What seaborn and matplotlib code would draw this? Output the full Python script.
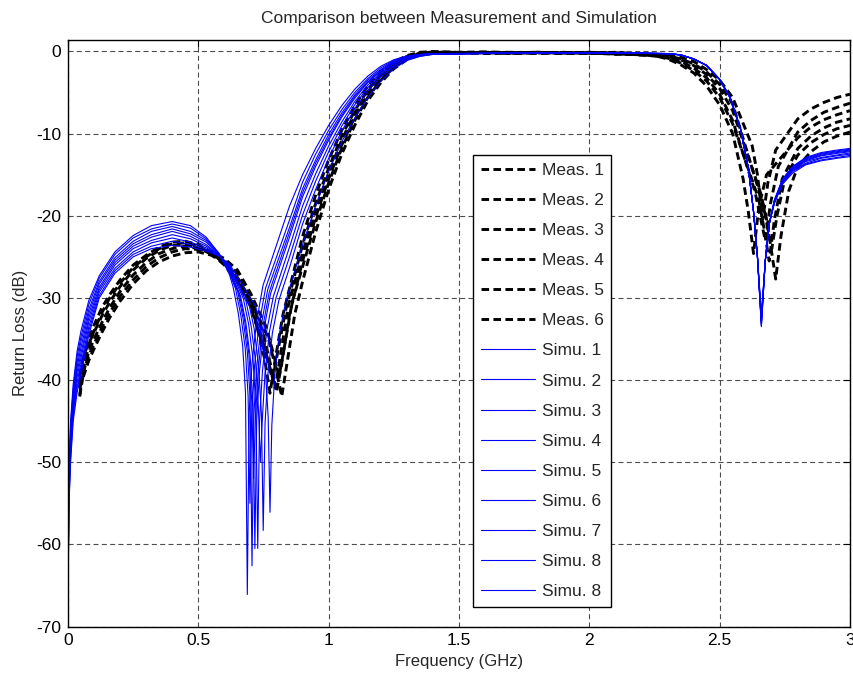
import matplotlib
matplotlib.use("Agg")
import matplotlib.pyplot as plt
import seaborn as sns

sns.set_style("white")
plt.rcParams['font.family'] = ['Liberation Sans', 'DejaVu Sans']
plt.rcParams['axes.unicode_minus'] = False

# ---------------- data ----------------
# Measurement curves: shared frequency grids + per-curve notch grids
meas_f_low = [0.045, 0.06, 0.08, 0.1, 0.13, 0.16, 0.2, 0.25, 0.3, 0.35, 0.4, 0.45, 0.5, 0.55, 0.6, 0.65, 0.7]
meas_f_mid = [0.9, 0.95, 1.0, 1.05, 1.1, 1.15, 1.2, 1.25, 1.3, 1.35, 1.4, 1.5, 1.6, 1.7, 1.8, 1.9, 2.0, 2.1,
              2.2, 2.25, 2.3, 2.35, 2.4, 2.45, 2.5, 2.55]
meas_f_tail = [2.8, 2.85, 2.9, 2.95, 3.0]

meas1_f_n1 = [0.725, 0.755, 0.775, 0.795, 0.825]
meas2_f_n1 = [0.735, 0.765, 0.785, 0.805, 0.835]
meas3_f_n1 = [0.745, 0.775, 0.795, 0.815, 0.845]
meas4_f_n1 = [0.75, 0.78, 0.80, 0.82, 0.85]
meas5_f_n1 = [0.76, 0.79, 0.81, 0.83, 0.86]
meas6_f_n1 = [0.77, 0.80, 0.82, 0.84, 0.87]

meas1_f_n2 = [2.59, 2.61, 2.63, 2.65, 2.68]
meas2_f_n2 = [2.625, 2.645, 2.665, 2.685, 2.715]
meas3_f_n2 = [2.635, 2.655, 2.675, 2.695, 2.725]
meas4_f_n2 = [2.65, 2.67, 2.69, 2.71, 2.74]
meas5_f_n2 = [2.66, 2.68, 2.70, 2.72, 2.75]
meas6_f_n2 = [2.675, 2.695, 2.715, 2.735, 2.765]

meas1_db = [-40.5, -37.5, -35.0, -33.3, -31.2, -29.6, -27.8, -26.0, -24.8, -23.8, -23.2, -23.1, -23.5, -24.5, -25.8, -27.8, -30.5,
            -33.5, -37.5, -41.6, -37.5, -32.0,
            -22.5, -17.5, -13.2, -9.6, -6.6, -4.2, -2.5, -1.3, -0.5, -0.1, 0.0, -0.1, -0.05, -0.15, -0.1, -0.2, -0.1, -0.2,
            -0.35, -0.5, -0.9, -1.6, -2.6, -4.2, -6.5, -10.0,
            -15.5, -19.5, -24.6, -19.0, -15.0,
            -10.5, -9.2, -8.3, -7.7, -7.2]
meas2_db = [-41.8, -38.5, -35.8, -34.0, -31.8, -30.0, -28.2, -26.3, -25.0, -24.0, -23.4, -23.3, -23.7, -24.6, -26.0, -28.0, -31.0,
            -34.5, -37.5, -40.0, -36.5, -31.5,
            -23.5, -18.5, -14.2, -10.3, -7.2, -4.7, -2.8, -1.5, -0.6, -0.2, -0.05, -0.15, -0.1, -0.2, -0.1, -0.15, -0.2, -0.1,
            -0.3, -0.35, -0.4, -0.7, -1.2, -2.2, -3.5, -5.6,
            -11.5, -15.0, -20.5, -16.0, -12.0,
            -8.2, -7.0, -6.2, -5.6, -5.2]
meas3_db = [-39.5, -37.0, -35.5, -34.2, -32.2, -30.5, -28.6, -26.6, -25.2, -24.2, -23.6, -23.5, -23.9, -24.7, -25.6, -27.6, -30.8,
            -35.0, -38.5, -41.0, -37.0, -31.0,
            -24.5, -19.2, -14.8, -10.8, -7.5, -4.9, -3.0, -1.6, -0.7, -0.25, -0.1, -0.2, -0.1, -0.1, -0.25, -0.15, -0.1, -0.25,
            -0.4, -0.5, -0.7, -1.2, -2.0, -3.2, -5.2, -8.4,
            -17.0, -20.0, -23.0, -18.5, -14.0,
            -9.8, -8.4, -7.4, -6.8, -6.3]
meas4_db = [-42.0, -39.0, -36.5, -35.0, -33.0, -31.2, -29.2, -27.2, -25.7, -24.6, -24.0, -23.7, -24.0, -24.6, -25.4, -27.0, -30.0,
            -34.5, -38.5, -41.4, -38.0, -32.0,
            -25.5, -20.2, -15.5, -11.4, -8.0, -5.3, -3.3, -1.8, -0.8, -0.3, -0.1, -0.1, -0.2, -0.15, -0.1, -0.2, -0.25, -0.15,
            -0.45, -0.55, -0.8, -1.4, -2.3, -3.6, -5.6, -8.8,
            -18.0, -21.5, -25.5, -20.5, -15.5,
            -11.8, -10.3, -9.3, -8.6, -8.2]
meas5_db = [-40.8, -38.8, -37.0, -35.6, -33.6, -31.8, -29.8, -27.8, -26.2, -25.1, -24.4, -24.0, -24.1, -24.4, -25.2, -26.6, -29.4,
            -33.5, -37.0, -39.5, -36.0, -30.5,
            -26.2, -20.8, -16.0, -11.8, -8.4, -5.6, -3.5, -1.9, -0.9, -0.35, -0.15, -0.2, -0.15, -0.25, -0.2, -0.1, -0.2, -0.3,
            -0.4, -0.5, -0.6, -1.0, -1.7, -2.8, -4.5, -7.2,
            -17.5, -20.8, -24.0, -20.0, -15.5,
            -12.6, -11.1, -10.1, -9.4, -9.0]
meas6_db = [-41.0, -39.5, -37.6, -36.2, -34.2, -32.4, -30.4, -28.3, -26.7, -25.6, -24.9, -24.5, -24.4, -24.8, -25.8, -27.5, -30.2,
            -35.0, -39.0, -42.0, -38.0, -32.0,
            -28.0, -22.0, -16.8, -12.5, -9.0, -6.0, -3.8, -2.1, -1.0, -0.4, -0.2, -0.15, -0.25, -0.2, -0.15, -0.25, -0.15, -0.35,
            -0.35, -0.4, -0.5, -0.9, -1.5, -2.5, -4.0, -6.4,
            -19.5, -23.5, -27.7, -22.5, -17.0,
            -14.0, -12.2, -11.0, -10.3, -9.8]

# Simulation curves: shared grids + per-curve notch grid
sim_f_low = [0.0, 0.003, 0.01, 0.02, 0.035, 0.05, 0.08, 0.12, 0.18, 0.25, 0.32, 0.40, 0.47, 0.53, 0.58, 0.62]
sim_f_high = [0.85, 0.9, 0.95, 1.0, 1.05, 1.1, 1.15, 1.2, 1.25, 1.3, 1.35, 1.4,
              1.6, 1.8, 2.0, 2.2, 2.3, 2.35, 2.4, 2.45, 2.5, 2.54, 2.58, 2.61, 2.63, 2.645, 2.66, 2.675, 2.69,
              2.71, 2.74, 2.78, 2.83, 2.89, 2.95, 3.0]

sim1_f_n = [0.633, 0.653, 0.670, 0.681, 0.688, 0.695, 0.706, 0.723, 0.748]
sim2_f_n = [0.643, 0.663, 0.680, 0.691, 0.698, 0.705, 0.716, 0.733, 0.758]
sim3_f_n = [0.651, 0.671, 0.688, 0.699, 0.706, 0.713, 0.724, 0.741, 0.766]
sim4_f_n = [0.657, 0.677, 0.694, 0.705, 0.712, 0.719, 0.730, 0.747, 0.772]
sim5_f_n = [0.662, 0.682, 0.699, 0.710, 0.717, 0.724, 0.735, 0.752, 0.777]
sim6_f_n = [0.673, 0.693, 0.710, 0.721, 0.728, 0.735, 0.746, 0.763, 0.788]
sim7_f_n = [0.683, 0.703, 0.720, 0.731, 0.738, 0.745, 0.756, 0.773, 0.798]
sim8_f_n = [0.694, 0.714, 0.731, 0.742, 0.749, 0.756, 0.767, 0.784, 0.809]
sim9_f_n = [0.720, 0.740, 0.757, 0.768, 0.775, 0.782, 0.793, 0.810, 0.835]

sim1_db = [-70, -52.0, -45.0, -40.5, -36.5, -34.0, -30.3, -27.3, -24.4, -22.4, -21.2, -20.7, -21.2, -22.6, -24.6, -27.2,
           -28.6, -31.8, -35.8, -41.5, -66.1, -44.0, -38.0, -33.0, -28.5,
           -18.8, -15.0, -11.8, -9.0, -6.6, -4.6, -3.0, -1.8, -1.0, -0.55, -0.35, -0.25,
           -0.22, -0.2, -0.2, -0.2, -0.25, -0.4, -0.9, -1.7, -3.4, -5.6, -9.4, -14.2, -19.5, -25.0, -33.5, -25.5, -21.0,
           -18.1, -15.6, -14.0, -12.9, -12.3, -12.0, -11.8]
sim2_db = [-70, -52.5, -45.6, -41.1, -37.1, -34.7, -30.8, -27.6, -24.7, -22.7, -21.6, -21.0, -21.5, -22.8, -24.6, -27.0,
           -28.9, -32.1, -36.1, -41.9, -55.0, -44.2, -38.2, -33.2, -28.8,
           -20.5, -15.9, -12.5, -9.6, -7.1, -5.0, -3.3, -2.0, -1.1, -0.6, -0.38, -0.26,
           -0.22, -0.2, -0.21, -0.2, -0.25, -0.4, -0.9, -1.7, -3.4, -5.6, -9.4, -14.2, -19.5, -25.0, -33.0, -25.5, -21.0,
           -18.1, -15.7, -14.0, -13.0, -12.4, -12.1, -11.9]
sim3_db = [-70, -53.0, -46.3, -41.6, -37.8, -35.3, -31.4, -28.0, -25.1, -23.1, -21.9, -21.3, -21.9, -23.0, -24.7, -26.9,
           -29.2, -32.4, -36.5, -42.3, -62.6, -44.4, -38.4, -33.4, -29.0,
           -21.4, -16.7, -13.2, -10.1, -7.5, -5.3, -3.5, -2.2, -1.2, -0.65, -0.4, -0.27,
           -0.23, -0.21, -0.2, -0.21, -0.26, -0.4, -0.9, -1.7, -3.4, -5.6, -9.4, -14.2, -19.5, -25.0, -32.5, -25.5, -21.0,
           -18.2, -15.7, -14.1, -13.1, -12.5, -12.2, -12.0]
sim4_db = [-70, -53.5, -46.9, -42.2, -38.4, -36.0, -31.9, -28.3, -25.4, -23.4, -22.3, -21.6, -22.2, -23.2, -24.7, -26.7,
           -29.5, -32.6, -36.8, -42.6, -52.0, -44.6, -38.6, -33.6, -29.3,
           -22.0, -17.2, -13.6, -10.5, -7.8, -5.5, -3.7, -2.3, -1.3, -0.7, -0.42, -0.28,
           -0.22, -0.2, -0.2, -0.2, -0.25, -0.4, -0.9, -1.7, -3.4, -5.6, -9.4, -14.2, -19.5, -25.0, -33.2, -25.5, -21.0,
           -18.2, -15.8, -14.2, -13.2, -12.6, -12.3, -12.1]
sim5_db = [-70, -54.0, -47.5, -42.8, -39.0, -36.7, -32.4, -28.7, -25.7, -23.7, -22.6, -21.9, -22.5, -23.5, -24.8, -26.6,
           -29.8, -32.9, -37.2, -43.0, -60.5, -44.8, -38.8, -33.8, -29.5,
           -22.6, -17.7, -14.0, -10.8, -8.0, -5.7, -3.8, -2.4, -1.4, -0.75, -0.45, -0.3,
           -0.23, -0.21, -0.21, -0.21, -0.26, -0.41, -0.9, -1.7, -3.4, -5.6, -9.4, -14.2, -19.5, -25.0, -32.0, -25.5, -21.0,
           -18.2, -15.9, -14.3, -13.3, -12.7, -12.4, -12.2]
sim6_db = [-70, -54.5, -48.1, -43.3, -39.6, -37.3, -32.9, -29.0, -26.0, -24.0, -23.0, -22.3, -22.8, -23.7, -24.8, -26.4,
           -30.1, -33.2, -37.5, -43.4, -60.5, -44.9, -38.9, -33.9, -29.8,
           -23.8, -18.8, -14.9, -11.5, -8.6, -6.1, -4.1, -2.6, -1.5, -0.8, -0.5, -0.31,
           -0.23, -0.21, -0.21, -0.21, -0.26, -0.41, -0.9, -1.7, -3.4, -5.6, -9.4, -14.2, -19.5, -25.0, -33.4, -25.5, -21.0,
           -18.3, -16.0, -14.4, -13.4, -12.9, -12.6, -12.35]
sim7_db = [-70, -55.0, -48.8, -43.9, -40.3, -38.0, -33.5, -29.3, -26.4, -24.4, -23.3, -22.7, -23.2, -23.9, -24.8, -26.2,
           -30.4, -33.5, -37.8, -43.8, -50.0, -45.1, -39.1, -34.1, -30.0,
           -25.0, -19.9, -15.8, -12.2, -9.1, -6.5, -4.4, -2.8, -1.7, -0.9, -0.53, -0.32,
           -0.24, -0.22, -0.22, -0.22, -0.27, -0.42, -0.9, -1.7, -3.4, -5.6, -9.4, -14.2, -19.5, -25.0, -32.8, -25.5, -21.0,
           -18.4, -16.0, -14.5, -13.6, -13.0, -12.7, -12.5]
sim8_db = [-70, -55.5, -49.4, -44.4, -40.9, -38.6, -34.0, -29.7, -26.7, -24.7, -23.7, -23.1, -23.5, -24.1, -24.9, -26.1,
           -30.7, -33.7, -38.2, -44.1, -58.3, -45.3, -39.3, -34.3, -30.3,
           -26.3, -21.0, -16.8, -13.0, -9.7, -7.0, -4.8, -3.1, -1.8, -1.0, -0.56, -0.34,
           -0.24, -0.22, -0.22, -0.22, -0.27, -0.42, -0.9, -1.7, -3.4, -5.6, -9.4, -14.2, -19.5, -25.0, -33.0, -25.5, -21.0,
           -18.4, -16.1, -14.6, -13.7, -13.2, -12.9, -12.65]
sim9_db = [-70, -56.0, -50.0, -45.0, -41.5, -39.3, -34.5, -30.0, -27.0, -25.0, -24.0, -23.6, -23.8, -24.3, -24.9, -25.9,
           -31.0, -34.0, -38.5, -44.5, -56.1, -45.5, -39.5, -34.5, -30.5,
           -28.8, -23.5, -18.8, -14.6, -11.0, -8.1, -5.6, -3.6, -2.1, -1.1, -0.6, -0.35,
           -0.25, -0.23, -0.22, -0.23, -0.28, -0.43, -0.9, -1.7, -3.4, -5.6, -9.4, -14.2, -19.5, -25.0, -32.3, -25.5, -21.0,
           -18.5, -16.2, -14.8, -13.8, -13.3, -13.0, -12.8]

meas_labels = ["Meas. 1", "Meas. 2", "Meas. 3", "Meas. 4", "Meas. 5", "Meas. 6"]
sim_labels = ["Simu. 1", "Simu. 2", "Simu. 3", "Simu. 4", "Simu. 5", "Simu. 6", "Simu. 7", "Simu. 8", "Simu. 8"]

x_ticks = [0, 0.5, 1, 1.5, 2, 2.5, 3]
x_tick_labels = ["0", "0.5", "1", "1.5", "2", "2.5", "3"]
y_ticks = [-70, -60, -50, -40, -30, -20, -10, 0]

# ---------------- figure ----------------
fig = plt.figure(figsize=(8.54, 6.86), dpi=100)
ax = fig.add_axes([0.0796, 0.0867, 0.9157, 0.855])

meas_sets = [
    (meas1_f_n1, meas1_f_n2, meas1_db),
    (meas2_f_n1, meas2_f_n2, meas2_db),
    (meas3_f_n1, meas3_f_n2, meas3_db),
    (meas4_f_n1, meas4_f_n2, meas4_db),
    (meas5_f_n1, meas5_f_n2, meas5_db),
    (meas6_f_n1, meas6_f_n2, meas6_db),
]
for (fn1, fn2, db), lab in zip(meas_sets, meas_labels):
    freq = meas_f_low + fn1 + meas_f_mid + fn2 + meas_f_tail
    sns.lineplot(x=freq, y=db, ax=ax, color="black", linewidth=2.1,
                 linestyle=(0, (2.6, 1.5)), sort=False, estimator=None, label=lab)

sim_sets = [
    (sim1_f_n, sim1_db), (sim2_f_n, sim2_db), (sim3_f_n, sim3_db),
    (sim4_f_n, sim4_db), (sim5_f_n, sim5_db), (sim6_f_n, sim6_db),
    (sim7_f_n, sim7_db), (sim8_f_n, sim8_db), (sim9_f_n, sim9_db),
]
for (fn, db), lab in zip(sim_sets, sim_labels):
    freq = sim_f_low + fn + sim_f_high
    sns.lineplot(x=freq, y=db, ax=ax, color="#0000ff", linewidth=0.8,
                 sort=False, estimator=None, label=lab)

ax.set_xlim(0, 3)
ax.set_ylim(-70, 1.4)
ax.set_xticks(x_ticks)
ax.set_xticklabels(x_tick_labels)
ax.set_yticks(y_ticks)

ax.grid(True, color="0.3", linestyle=(0, (4.5, 3)), linewidth=0.8)
ax.set_axisbelow(True)
for sp in ax.spines.values():
    sp.set_color("black")
    sp.set_linewidth(1.0)
ax.tick_params(direction="in", top=True, right=True, length=5, width=0.8,
               labelsize=12.5, pad=5, colors="black")

ax.set_xlabel("Frequency (GHz)", fontsize=12, labelpad=4)
ax.set_ylabel("Return Loss (dB)", fontsize=12, labelpad=6)
ax.set_title("Comparison between Measurement and Simulation", fontsize=12.5, pad=12)

leg = ax.legend(loc="upper left", bbox_to_anchor=(0.518, 0.804), borderaxespad=0,
                fancybox=False, edgecolor="black", framealpha=1, fontsize=12.5,
                handlelength=3.1, handletextpad=0.4, labelspacing=0.86, borderpad=0.45)
leg.get_frame().set_linewidth(1.0)

fig.savefig("out.png", dpi=100)
